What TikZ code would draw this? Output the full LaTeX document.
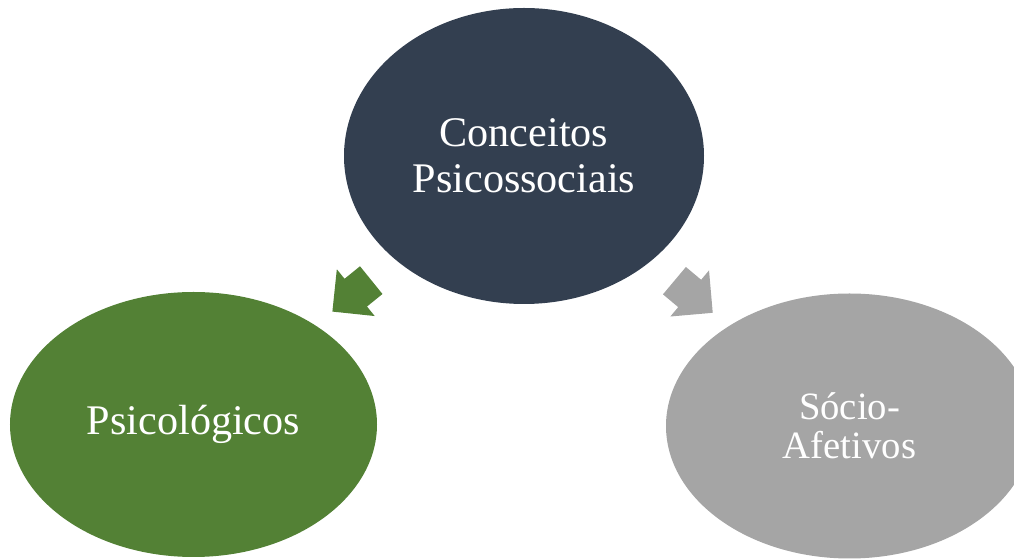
\documentclass[tikz,border=0pt]{standalone}
\usepackage{fontspec}
\setmainfont{Liberation Serif}
\usetikzlibrary{shapes.geometric,shapes.arrows,calc}
\definecolor{navy}{HTML}{333F50}
\definecolor{leaf}{HTML}{538135}
\definecolor{stone}{HTML}{A5A5A5}
\begin{document}
\begin{tikzpicture}[
    blob/.style={ellipse, inner sep=0pt, text=white, align=center},
    pointer/.style={single arrow, minimum height=1.0cm, inner xsep=0pt, inner ysep=0.35cm, single arrow head extend=0.245cm}
  ]
  \clip (0,0) rectangle (20.28,11.2);
  \node at (10.48,8.08) [blob, fill=navy, minimum width=7.2cm, minimum height=5.92cm, font=\fontsize{24}{26}\selectfont] (C) {Conceitos\\Psicossociais};
  \node at (3.87,2.71) [blob, fill=leaf, minimum width=7.34cm, minimum height=5.3cm, font=\fontsize{24}{26}\selectfont] (P) {Psicológicos};
  \node at (16.99,2.6) [blob, fill=stone, minimum width=7.34cm, minimum height=5.3cm, yshift=0.08cm, font=\fontsize{22}{22}\selectfont] (S) {Sócio-\\Afetivos};
  \node at ($(C)!0.5!(P)$) [pointer, fill=leaf, rotate=219] (CP) {};
  \node at ($(C)!0.5!(S)$) [pointer, fill=stone, rotate=-40] (CS) {};
\end{tikzpicture}
\end{document}
